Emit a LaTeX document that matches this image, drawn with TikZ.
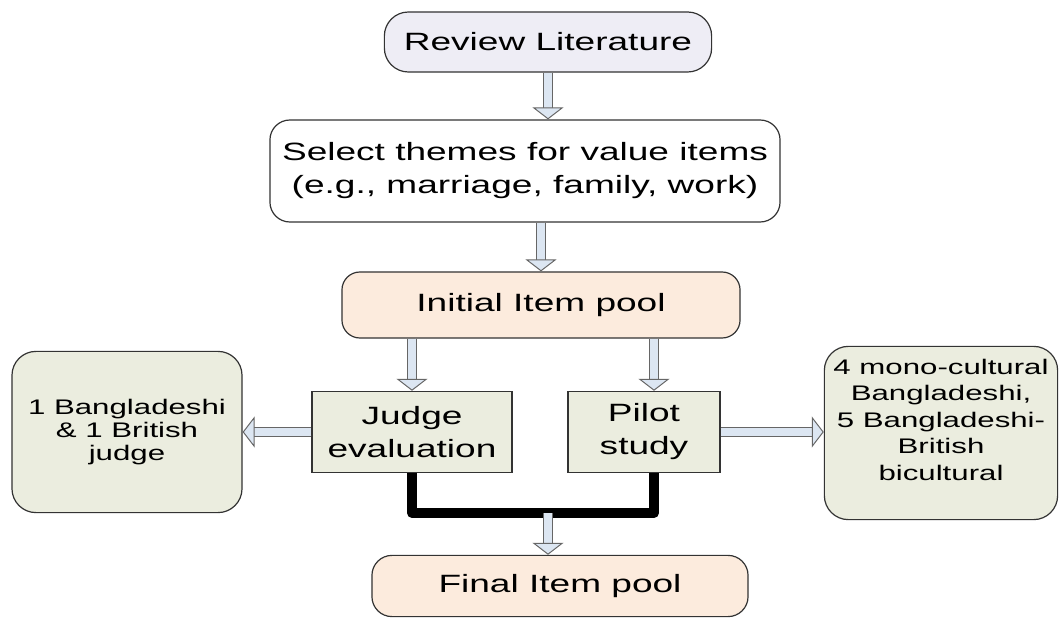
\documentclass[tikz,border=0pt]{standalone}
\usepackage{fontspec}
\setmainfont{Liberation Sans}[FakeStretch=1.48]
\usetikzlibrary{arrows.meta}
\definecolor{lavbox}{HTML}{EEEDF5}
\definecolor{peachbox}{HTML}{FCEBDD}
\definecolor{greenbox}{HTML}{EBEDDF}
\definecolor{arrowblue}{HTML}{DCE6F2}

\begin{document}
\begin{tikzpicture}[x=0.025cm, y=0.025cm,
	box/.style={draw=black!80, line width=0.85pt, inner sep=0pt, align=center, font=\fontsize{17.8}{23.5}\selectfont},
	smallbox/.style={box, fill=greenbox, rounded corners=0.6cm, font=\fontsize{15}{16.6}\selectfont},
	hollow/.style={draw=black!60, line width=0.7pt, double=arrowblue, double distance=6pt, -{Triangle[length=8.5pt, width=22pt, fill=arrowblue]}},
	bracket/.style={line width=7pt, line join=round}]
	\useasboundingbox (0,0) rectangle (1060,620);

	\node[box, fill=lavbox, rounded corners=0.6cm, minimum width=8.18cm, minimum height=1.5cm] (rev) at (548,578) {Review Literature};
	\node[box, fill=white, rounded corners=0.5cm, minimum width=12.75cm, minimum height=2.55cm] (sel) at (525,449) {Select themes for value items\\(e.g., marriage, family, work)};
	\node[box, fill=peachbox, rounded corners=0.45cm, minimum width=9.95cm, minimum height=1.65cm] (ini) at (541,315) {Initial Item pool};
	\node[box, fill=greenbox, minimum width=5cm, minimum height=2.03cm] (jud) at (412,188) {Judge\\evaluation};
	\node[box, fill=greenbox, minimum width=3.8cm, minimum height=2.03cm] (pil) at (644,188) {Pilot\\study};
	\node[smallbox, minimum width=5.75cm, minimum height=4.03cm] (lft) at (127,188) {1 Bangladeshi\\\& 1 British\\judge};
	\node[smallbox, minimum width=5.83cm, minimum height=4.33cm, font=\fontsize{15}{18.8}\selectfont] (rgt) at (941,187) {4 mono-cultural\\Bangladeshi,\\5 Bangladeshi-\\British\\bicultural\\~};
	\node[box, fill=peachbox, rounded corners=0.5cm, minimum width=9.4cm, minimum height=1.53cm] (fin) at (560,34) {Final Item pool};
	\coordinate (mid) at (548,107);

	\draw[hollow] (rev.south) -- (rev.south |- sel.north);
	\draw[hollow] (ini.north |- sel.south) -- (ini.north);
	\draw[hollow] (jud.north |- ini.south) -- (jud.north);
	\draw[hollow] ([xshift=0.25cm]pil.north |- ini.south) -- ([xshift=0.25cm]pil.north);
	\draw[hollow] (jud.west) -- (jud.west -| lft.east);
	\draw[hollow] (pil.east) -- (pil.east -| rgt.west);

	\draw[bracket] (jud.south) |- (mid) -| ([xshift=0.25cm]pil.south);
	\draw[hollow] (mid) -- (mid |- fin.north);
\end{tikzpicture}
\end{document}
